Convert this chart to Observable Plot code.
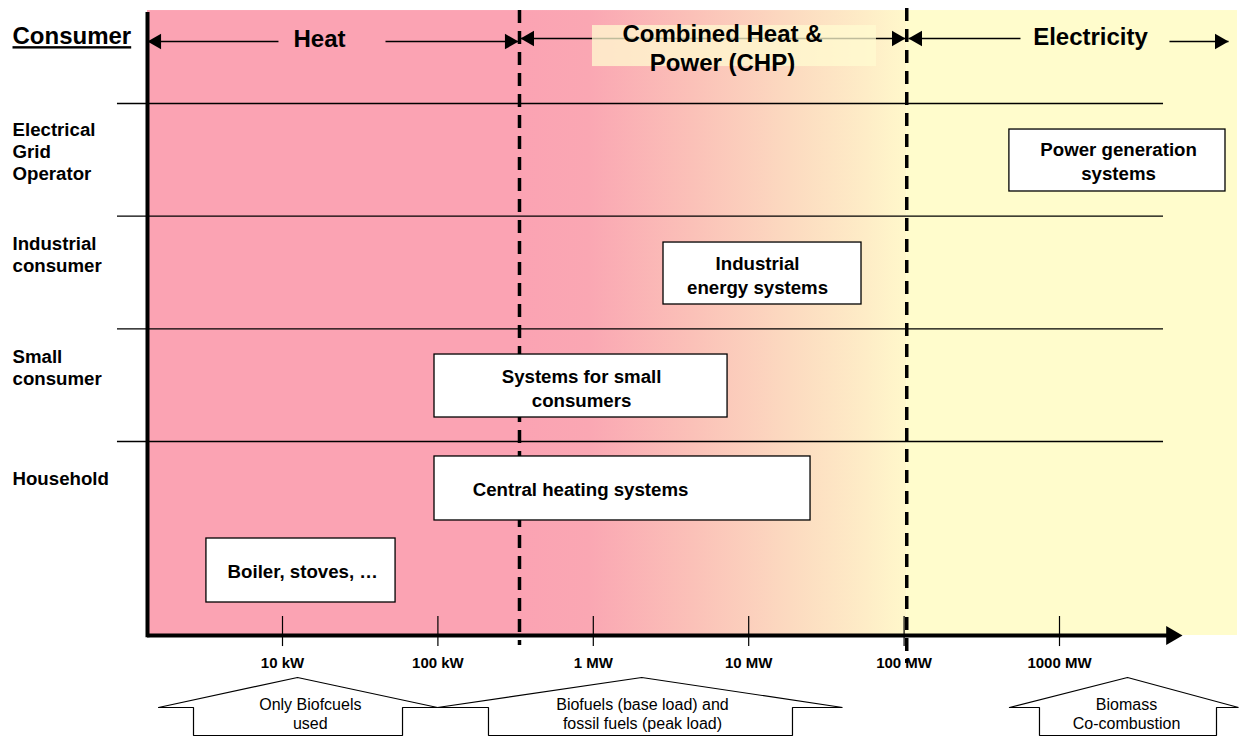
<!DOCTYPE html>
<html><head><meta charset="utf-8">
<script src="https://cdn.jsdelivr.net/npm/d3@7"></script>
<script src="https://cdn.jsdelivr.net/npm/@observablehq/plot@0.6"></script>
<style>body{margin:0;background:#fff}</style>
</head><body><div id="chart"></div>
<script>
// x values are power in kW (log scale); y values are in "consumer row" units (row boundaries at 1..4)
const tickValuesKW = [10, 100, 1000, 10000, 100000, 1000000];
const tickLabels = ["10 kW", "100 kW", "1 MW", "10 MW", "100 MW", "1000 MW"];

const consumerTitle = "Consumer";
const consumerLabels = ["Household", "Small\nconsumer", "Industrial\nconsumer", "Electrical\nGrid\nOperator"];
const consumerLabelY = [0.68, 1.666, 2.669, 3.583];
const rowBoundaries = [1, 2, 3, 4];
const rowLineFromKW = 0.867, rowLineToKW = 4.67e6;

const systemNames = ["Boiler, stoves, …", "Central heating systems", "Systems for small\nconsumers", "Industrial\nenergy systems", "Power generation\nsystems"];
const systemMinKW = [3.24, 95.1, 95.1, 2830, 476000];
const systemMaxKW = [53.4, 25000, 7310, 53200, 1.17e7];
const systemTop = [0.139, 0.867, 1.772, 2.766, 3.769];
const systemBottom = [-0.429, 0.299, 1.213, 2.216, 3.219];
const systemLabelKW = [13.5, 828, 840, 11400, 2.4e6];
const systemLabelY = [-0.145, 0.583, 1.479, 2.482, 3.494];

const sectorNames = ["Heat", "Combined Heat &\nPower (CHP)", "Electricity"];
const sectorLabelKW = [17.3, 6780, 1.583e6];
const sectorLabelY = [4.586, 4.501, 4.603];
const sectorStartKW = [1.353, 335, 104000];
const sectorEndKW = [335, 104000, 1.397e7];
const sectorFills = ["#FBA3B3", "url(#chpGrad)", "#FFFCCC"];
const areaTop = 4.825, areaBottom = -0.722;
const gradientOffsets = [0, 0.18, 0.45, 0.7, 0.9, 1];
const gradientColors = ["#FBA3B3", "#FAA7B3", "#FBC1B8", "#FCDAC0", "#FEEDC7", "#FFF8CB"];

const chpBoxKW = [988, 66400];
const chpBoxY = [4.328, 4.692];

const sectorArrowFromKW = [1.353, 46.0, 340, 106700, 5.1e6];
const sectorArrowToKW = [9.42, 330, 102100, 561000, 1.224e7];
const sectorArrowY = [4.55, 4.55, 4.577, 4.577, 4.55];
const headAtFrom = [true, false, true, true, false];
const headAtTo = [false, true, true, false, true];

const boundaryKW = [335, 104000];
const boundaryTop = [4.825, 4.843];
const boundaryBottom = [-0.81, -0.97];

const axisOriginKW = 1.353, axisEndKW = 6.19e6, axisTop = 4.808;
const tickTop = -0.553, tickBottom = -0.82, tickLabelY = -0.97;

const fuelNotes = ["Only Biofcuels\nused", "Biofuels (base load) and\nfossil fuels (peak load)", "Biomass\nCo-combustion"];
const fuelWingLeftKW = [1.593, 99.4, 476400];
const fuelShaftLeftKW = [2.675, 211.6, 743300];
const fuelTipKW = [12.49, 2050, 2.739e6];
const fuelShaftRightKW = [59.2, 19130, 1.024e7];
const fuelWingRightKW = [99.4, 40140, 1.419e7];
const fuelLabelKW = [15.1, 2073, 2.7e6];
const fuelTipY = -1.0946, fuelWingY = -1.3609, fuelBaseY = -1.6094, fuelLabelY = -1.41;

// ---- build tables ----
const FONT = '"Liberation Sans", Arial, Helvetica, sans-serif';
const idx = n => d3.range(n);
const headOffset = r => 2 * Math.sqrt(Math.PI * r * r / (3 * Math.sqrt(3)));
const HEAD_R = 5.8;

const headsLeft = [], headsRight = [];
sectorArrowFromKW.forEach((x, i) => {
  if (headAtFrom[i]) headsLeft.push({x, y: sectorArrowY[i]});
  if (headAtTo[i]) headsRight.push({x: sectorArrowToKW[i], y: sectorArrowY[i]});
});

const fuelPoly = [];
fuelNotes.forEach((n, i) => {
  const pts = [
    [fuelWingLeftKW[i], fuelWingY], [fuelTipKW[i], fuelTipY], [fuelWingRightKW[i], fuelWingY],
    [fuelShaftRightKW[i], fuelWingY], [fuelShaftRightKW[i], fuelBaseY], [fuelShaftLeftKW[i], fuelBaseY],
    [fuelShaftLeftKW[i], fuelWingY], [fuelWingLeftKW[i], fuelWingY]
  ];
  pts.forEach(([x, y]) => fuelPoly.push({arrow: i, x, y}));
});

const chart = Plot.plot({
  width: 1240, height: 737,
  marginTop: 0, marginRight: 0, marginBottom: 0, marginLeft: 0,
  x: {type: "log", domain: [10, 1e6], range: [282, 1059], axis: null},
  y: {type: "linear", domain: [1, 4], range: [441, 103], axis: null},
  style: {fontFamily: FONT, background: "white", color: "black", overflow: "visible"},
  marks: [
    Plot.rect(idx(3), {x1: i => sectorStartKW[i], x2: i => sectorEndKW[i], y1: areaBottom, y2: areaTop, fill: i => sectorFills[i]}),
    Plot.ruleY(rowBoundaries, {x1: rowLineFromKW, x2: rowLineToKW, stroke: "black", strokeWidth: 1.4}),
    Plot.ruleX([boundaryKW[0]], {y1: boundaryTop[0], y2: boundaryBottom[0], stroke: "black", strokeWidth: 3.5, strokeDasharray: "13,8"}),
    Plot.rect(idx(systemNames.length), {x1: i => systemMinKW[i], x2: i => systemMaxKW[i], y1: i => systemBottom[i], y2: i => systemTop[i], fill: "white", stroke: "black", strokeWidth: 1.3}),
    Plot.text(idx(systemNames.length), {x: i => systemLabelKW[i], y: i => systemLabelY[i], text: i => systemNames[i], fontSize: 18.67, fontWeight: "bold", lineHeight: 1.25, fill: "black"}),
    // axes
    Plot.ruleX([axisOriginKW], {y1: areaBottom - 0.02, y2: axisTop, stroke: "black", strokeWidth: 4}),
    Plot.ruleY([areaBottom], {x1: axisOriginKW, x2: 5.18e6, stroke: "black", strokeWidth: 4}),
    Plot.dot([axisEndKW], {x: d => d, y: areaBottom, symbol: "triangle", r: 7, rotate: 90, fill: "black", stroke: "none", dx: -headOffset(7)}),
    Plot.ruleX(tickValuesKW, {y1: tickTop, y2: tickBottom, stroke: "black", strokeWidth: 1.2}),
    Plot.text(tickValuesKW, {x: d => d, y: tickLabelY, text: (d, i) => tickLabels[i], fontSize: 15, fontWeight: "bold", fill: "black"}),
    Plot.ruleX([boundaryKW[1]], {y1: boundaryTop[1], y2: boundaryBottom[1], stroke: "black", strokeWidth: 3.5, strokeDasharray: "13,8"}),
    // sector arrows
    Plot.link(idx(sectorArrowFromKW.length), {x1: i => sectorArrowFromKW[i], x2: i => sectorArrowToKW[i], y1: i => sectorArrowY[i], y2: i => sectorArrowY[i], stroke: "black", strokeWidth: 1.5}),
    Plot.dot(headsLeft, {x: "x", y: "y", symbol: "triangle", r: HEAD_R, rotate: -90, fill: "black", stroke: "none", dx: headOffset(HEAD_R)}),
    Plot.dot(headsRight, {x: "x", y: "y", symbol: "triangle", r: HEAD_R, rotate: 90, fill: "black", stroke: "none", dx: -headOffset(HEAD_R)}),
    Plot.rect([0], {x1: chpBoxKW[0], x2: chpBoxKW[1], y1: chpBoxY[0], y2: chpBoxY[1], fill: "#FFFBD0", fillOpacity: 0.75}),
    Plot.text(idx(3), {x: i => sectorLabelKW[i], y: i => sectorLabelY[i], text: i => sectorNames[i], fontSize: 24, fontWeight: "bold", lineHeight: 1.2, fill: "black"}),
    // consumers
    Plot.text([consumerTitle], {frameAnchor: "left", dx: 12, y: 4.595, text: d => d, fontSize: 24, fontWeight: "bold", textAnchor: "start", fill: "black"}),
    Plot.text(idx(4), {frameAnchor: "left", dx: 12, y: i => consumerLabelY[i], text: i => consumerLabels[i], fontSize: 18.67, fontWeight: "bold", textAnchor: "start", lineHeight: 1.18, fill: "black"}),
    // fuel arrows
    Plot.line(fuelPoly, {x: "x", y: "y", z: "arrow", fill: "white", stroke: "black", strokeWidth: 1.2, strokeLinejoin: "miter"}),
    Plot.text(idx(3), {x: i => fuelLabelKW[i], y: fuelLabelY, text: i => fuelNotes[i], fontSize: 16, lineHeight: 1.2, fill: "black"})
  ]
});

document.getElementById("chart").appendChild(chart);

const svg = d3.select(chart);
const grad = svg.insert("defs", ":first-child").append("linearGradient").attr("id", "chpGrad")
  .attr("x1", 0).attr("x2", 1).attr("y1", 0).attr("y2", 0);
gradientOffsets.forEach((o, i) => grad.append("stop").attr("offset", o).attr("stop-color", gradientColors[i]));
svg.selectAll("text").filter(function() { return this.textContent === consumerTitle; })
  .attr("text-decoration", "underline").style("text-decoration", "underline");
</script></body></html>
